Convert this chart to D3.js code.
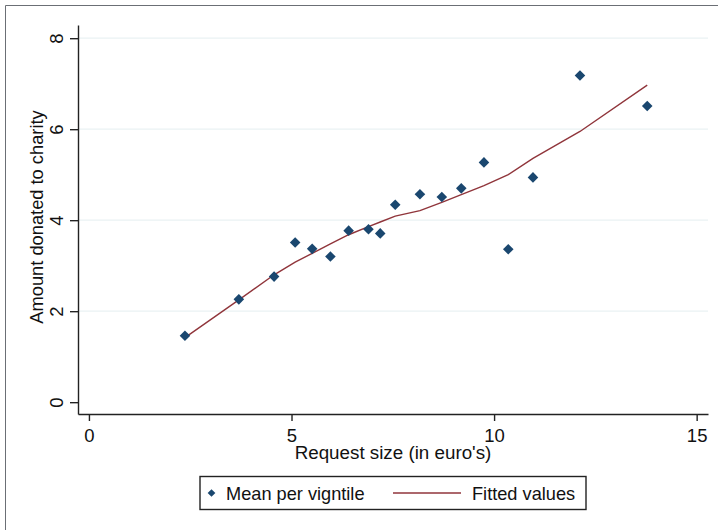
<!DOCTYPE html>
<html>
<head>
<meta charset="utf-8">
<script src="https://cdn.jsdelivr.net/npm/d3@7"></script>
<style>
  body { margin: 0; background: #fff; }
  svg { display: block; font-family: "Liberation Sans", Arial, sans-serif; }
</style>
</head>
<body>
<script>
const width = 718;
const height = 530;

// mean per vigntile: request size (euro) and amount donated
const requestSize = [2.37, 3.70, 4.57, 5.09, 5.51, 5.96, 6.41, 6.90, 7.19, 7.56,
  8.17, 8.71, 9.19, 9.75, 10.35, 10.96, 12.12, 13.78];
const meanDonation = [1.46, 2.26, 2.76, 3.51, 3.37, 3.20, 3.77, 3.80, 3.71, 4.34,
  4.57, 4.51, 4.70, 5.27, 3.36, 4.94, 7.18, 6.51];
const fittedValues = [1.42, 2.25, 2.80, 3.08, 3.27, 3.48, 3.68, 3.86, 3.96, 4.09,
  4.21, 4.39, 4.56, 4.76, 5.00, 5.36, 5.95, 6.97];

const xTicks = [0, 5, 10, 15];
const yTicks = [0, 2, 4, 6, 8];
const gridTicks = [2, 4, 6, 8];

const markerColor = "#1a476f";
const lineColor = "#90353b";

function main() {
  const svg = d3.select("body")
    .append("svg")
    .attr("width", width)
    .attr("height", height);

  // outer frame (right and bottom edges fall outside the picture)
  svg.append("path")
    .attr("d", `M5.5,${height} V5.5 H${width}`)
    .attr("fill", "none")
    .attr("stroke", "#6b6f75")
    .attr("stroke-width", 1);

  const x = d3.scaleLinear().domain([-0.27, 15.28]).range([78, 708]);
  const y = d3.scaleLinear().domain([-0.26, 8.29]).range([414, 25]);

  svg.append("g")
    .selectAll("line")
    .data(gridTicks)
    .join("line")
    .attr("x1", x.range()[0])
    .attr("x2", x.range()[1])
    .attr("y1", d => y(d))
    .attr("y2", d => y(d))
    .attr("stroke", "#eaf2f3")
    .attr("stroke-width", 1.2);

  const xAxis = svg.append("g")
    .attr("transform", `translate(0, ${y.range()[0]})`)
    .call(d3.axisBottom(x).tickValues(xTicks).tickSize(7).tickSizeOuter(0).tickPadding(8));

  const yAxis = svg.append("g")
    .attr("transform", `translate(${x.range()[0]}, 0)`)
    .call(d3.axisLeft(y).tickValues(yTicks).tickSize(8).tickSizeOuter(0));

  yAxis.selectAll(".tick text")
    .attr("transform", "rotate(-90)")
    .attr("x", 0)
    .attr("y", -15)
    .attr("dy", 0)
    .attr("text-anchor", "middle");

  [xAxis, yAxis].forEach(g => {
    g.select(".domain").attr("stroke", "#222").attr("stroke-width", 1.4);
    g.selectAll(".tick line").attr("stroke", "#222").attr("stroke-width", 1.4);
    g.selectAll(".tick text")
      .attr("font-size", 18.5)
      .attr("font-family", "Liberation Sans, Arial, sans-serif")
      .attr("fill", "#111");
  });

  // fitted line
  const fitted = requestSize.map((v, i) => [v, fittedValues[i]]);
  svg.append("path")
    .datum(fitted)
    .attr("fill", "none")
    .attr("stroke", lineColor)
    .attr("stroke-width", 1.4)
    .attr("d", d3.line().x(d => x(d[0])).y(d => y(d[1])));

  // diamonds
  const diamond = d3.symbol(d3.symbolSquare, 56);
  svg.append("g")
    .selectAll("path")
    .data(requestSize.map((v, i) => [v, meanDonation[i]]))
    .join("path")
    .attr("d", diamond)
    .attr("transform", d => `translate(${x(d[0])}, ${y(d[1])}) rotate(45)`)
    .attr("fill", markerColor);

  // axis titles
  svg.append("text")
    .attr("x", 393)
    .attr("y", 459)
    .attr("text-anchor", "middle")
    .attr("font-size", 18.8)
    .attr("fill", "#111")
    .text("Request size (in euro's)");

  svg.append("text")
    .attr("transform", "translate(43, 217) rotate(-90)")
    .attr("text-anchor", "middle")
    .attr("font-size", 18.3)
    .attr("fill", "#111")
    .text("Amount donated to charity");

  // legend
  const legend = svg.append("g");
  legend.append("rect")
    .attr("x", 200)
    .attr("y", 476.5)
    .attr("width", 386)
    .attr("height", 33)
    .attr("fill", "#fff")
    .attr("stroke", "#222")
    .attr("stroke-width", 1.4);

  legend.append("path")
    .attr("d", d3.symbol(d3.symbolSquare, 30))
    .attr("transform", "translate(211.5, 493) rotate(45)")
    .attr("fill", markerColor);

  legend.append("text")
    .attr("x", 226)
    .attr("y", 499.5)
    .attr("font-size", 18.2)
    .attr("fill", "#111")
    .text("Mean per vigntile");

  legend.append("line")
    .attr("x1", 393)
    .attr("x2", 461)
    .attr("y1", 493)
    .attr("y2", 493)
    .attr("stroke", lineColor)
    .attr("stroke-width", 1.4);

  legend.append("text")
    .attr("x", 472)
    .attr("y", 499.5)
    .attr("font-size", 18.2)
    .attr("fill", "#111")
    .text("Fitted values");
}

main();
</script>
</body>
</html>
